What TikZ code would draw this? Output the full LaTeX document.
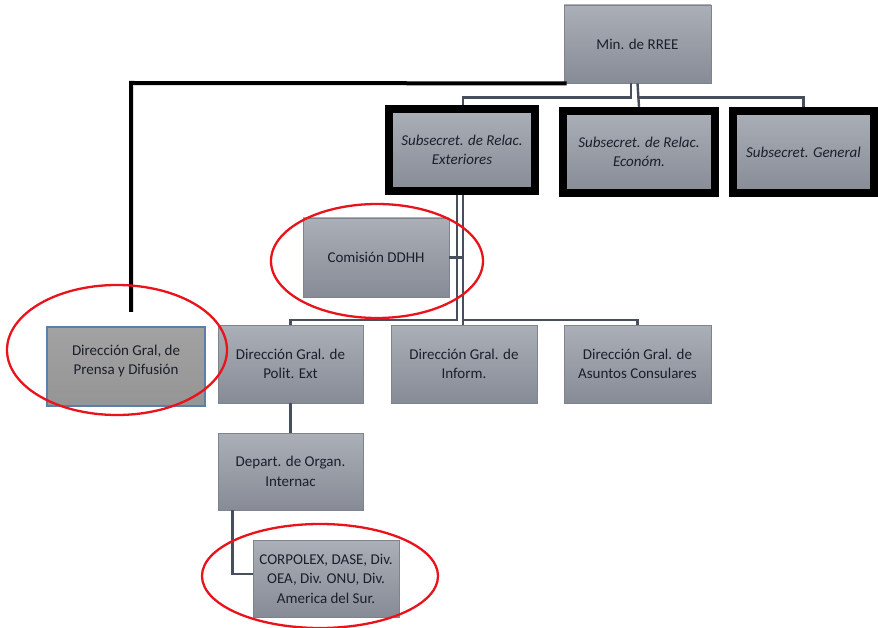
\documentclass[tikz,border=0pt]{standalone}
\usepackage{fontspec}
\setmainfont{Carlito}
\definecolor{boxtop}{HTML}{ABAFB7}
\definecolor{boxbot}{HTML}{868B95}
\definecolor{boxedge}{HTML}{7E838C}
\definecolor{txt}{HTML}{1A1F2A}
\definecolor{conn}{HTML}{474F5C}
\definecolor{prensafill}{HTML}{A3A2A2}
\definecolor{prensaedge}{HTML}{5B7FA6}
\definecolor{ovalred}{HTML}{E8131B}
\begin{document}
\begin{tikzpicture}[x=1pt,y=-1pt,
  orgbox/.style={shape=rectangle, top color=boxtop, bottom color=boxbot, draw=boxedge, line width=0.8,
    inner sep=2pt, align=center, text=txt, font=\fontsize{15}{19.5}\selectfont},
  subbox/.style={orgbox, draw=black, line width=8, font=\fontsize{15}{19.5}\selectfont\itshape},
  prensabox/.style={orgbox, top color=prensafill, bottom color=prensafill!92!black, draw=prensaedge, line width=2},
  plaintext/.style={align=center, text=txt, inner sep=0pt, font=\fontsize{15}{19.5}\selectfont},
  link/.style={draw=conn, line width=2.4},
  boldlink/.style={draw=black, line width=4},
  oval/.style={draw=ovalred, line width=2.3}]
\useasboundingbox (0,0) rectangle (878,628);

% nodes
\node[orgbox, minimum width=147, minimum height=78] (min) at (637.5,44) {Min. de RREE};
\node[subbox, minimum width=146, minimum height=82] (ext) at (462,150) {Subsecret. de Relac.\\Exteriores};
\node[subbox, minimum width=152, minimum height=82] (econ) at (639,152) {Subsecret. de Relac.\\Económ.};
\node[subbox, minimum width=141, minimum height=82] (gen) at (803.5,152) {Subsecret. General};
\node[orgbox, minimum width=146, minimum height=79] (com) at (376,257.5) {Comisión DDHH};
\node[prensabox, minimum width=158, minimum height=79] (prensa) at (126,366.5) {};
\node[plaintext] (prensatxt) at (126,361) {Dirección Gral, de\\Prensa y Difusión};
\node[orgbox, minimum width=145, minimum height=78] (polit) at (290.5,364) {Dirección Gral. de\\Polit. Ext};
\node[orgbox, minimum width=146, minimum height=78] (inform) at (464,364) {Dirección Gral. de\\Inform.};
\node[orgbox, minimum width=147, minimum height=78] (asun) at (637.5,364) {Dirección Gral. de\\Asuntos Consulares};
\node[orgbox, minimum width=145, minimum height=77] (dep) at (290.5,471.5) {Depart. de Organ.\\Internac};
\node[orgbox, minimum width=146, minimum height=77] (corp) at (326,578.5) {CORPOLEX, DASE, Div.\\OEA, Div. ONU, Div.\\America del Sur.};

% connectors
\coordinate (bendl) at (131,83);
\coordinate (prensatop) at (131,312);
\draw[boldlink] (min.south west) ++(3,0) -- (bendl) -- (prensatop);

\draw[link] ([xshift=-6.5]min.south) -- ++(0,14) -| ([xshift=1]ext.north);
\draw[link] (min.south) -- (econ.north);
\draw[link] (min.south) ++(0,14) -| (gen.north);

\draw[link] ([xshift=-5]ext.south) -- ++(0,125) -| (polit.north);
\draw[link] ([xshift=1]ext.south) -- ([xshift=-1]inform.north);
\draw[link] ([xshift=1]ext.south) ++(0,125) -| (asun.north);
\draw[link] (com.east) -- ++(14,0);

\draw[link] (polit.south) -- (dep.north);
\draw[link] ([xshift=15]dep.south west) |- ([yshift=4.5]corp.west);

% red ovals
\draw[oval] (117,350) ellipse [x radius=110, y radius=65];
\draw[oval] (377,261) ellipse [x radius=106, y radius=57];
\draw[oval] (320,576) ellipse [x radius=118, y radius=52];
\end{tikzpicture}
\end{document}
